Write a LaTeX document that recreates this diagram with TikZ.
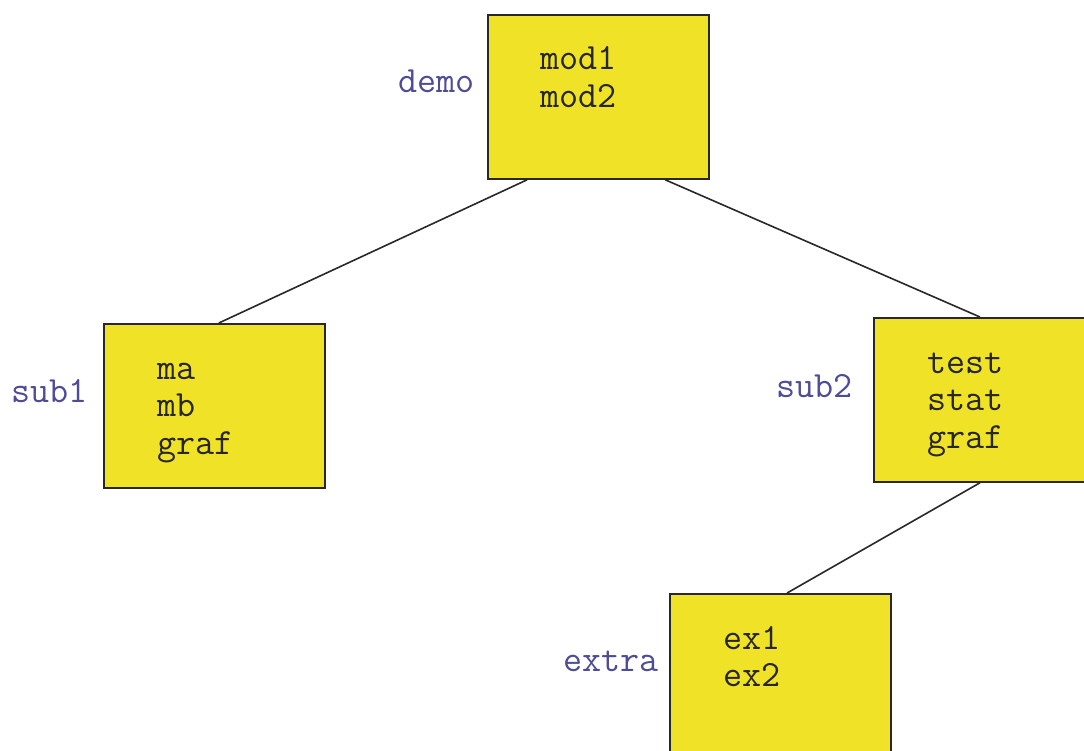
\documentclass[tikz,border=0pt]{standalone}
\usepackage{fontspec}
\usetikzlibrary{calc}
\definecolor{boxfill}{RGB}{240,226,38}
\definecolor{labelblue}{RGB}{78,76,150}
\definecolor{edgegray}{RGB}{40,40,40}
\begin{document}
\begin{tikzpicture}[x=1pt,y=-1pt,
  box/.style={draw=edgegray, line width=1.8pt, fill=boxfill,
    minimum width=221pt, minimum height=164pt, inner sep=0pt, anchor=north west},
  items/.style={font=\ttfamily\fontsize{37}{37.5}\selectfont, align=left,
    anchor=base west, inner sep=0pt, text=black!85},
  tag/.style={font=\ttfamily\fontsize{37}{37.5}\selectfont, text=labelblue,
    anchor=base east, inner sep=0pt},
  link/.style={draw=edgegray, line width=1.6pt}]
\useasboundingbox (0,0) rectangle (1084,751);

% module boxes
\node[box] (demo)  at (487,14)  {};
\node[box] (sub1)  at (103,323) {};
\node[box] (sub2)  at (873,317) {};
\node[box] (extra) at (669,593) {};

% contents of each box (placed by the baseline of the last line)
\node[items] (demo-items)  at ($(demo.north west)+(53,93.5)$)  {mod1\\mod2};
\node[items] (sub1-items)  at ($(sub1.north west)+(54,131)$)   {ma\\mb\\graf};
\node[items] (sub2-items)  at ($(sub2.north west)+(54,131)$)   {test\\stat\\graf};
\node[items] (extra-items) at ($(extra.north west)+(54,93.5)$) {ex1\\ex2};

% directory names
\node[tag] (demo-tag)  at ($(demo.north west)+(-12,79)$)  {demo};
\node[tag] (sub1-tag)  at ($(sub1.north west)+(-15,79)$)  {sub1};
\node[tag] (sub2-tag)  at ($(sub2.north west)+(-20,80)$)  {sub2};
\node[tag] (extra-tag) at ($(extra.north west)+(-10,78)$) {extra};

% tree links
\draw[link] ($(demo.south west)!0.18!(demo.south east)$) -- ($(sub1.north west)!0.52!(sub1.north east)$);
\draw[link] ($(demo.south west)!0.80!(demo.south east)$) -- ($(sub2.north west)!0.48!(sub2.north east)$);
\draw[link] ($(sub2.south west)!0.48!(sub2.south east)$) -- ($(extra.north west)!0.53!(extra.north east)$);
\end{tikzpicture}
\end{document}
